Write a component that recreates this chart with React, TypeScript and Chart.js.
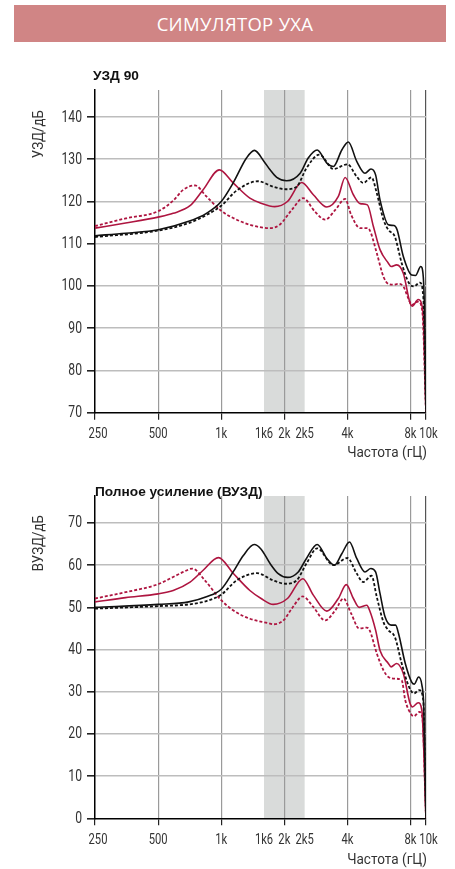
import React, { useEffect, useRef } from 'react';
import { Chart, registerables } from 'chart.js';

Chart.register(...registerables);

const LABEL_FONT = 'Roboto, "Liberation Sans", sans-serif';
const BOLD = '"Liberation Sans", Arial, sans-serif';

// ---- X axis (frequency, Hz) ----
const xMin = 250;
const xMax = 9480;
const xTickValues = [250, 500, 1000, 1600, 2000, 2500, 4000, 8000, 9480];
const xTickLabels = ['250', '500', '1k', '1k6', '2k', '2k5', '4k', '8k', '10k'];
const xLabelOnly = [1600, 2500];
const bandRange = [1600, 2500];

// ---- Top chart: УЗД 90 ----
const uzdTicks = [70, 80, 90, 100, 110, 120, 130, 140];
const uzdBlackSolidF = [250, 350, 500, 700, 850, 1000, 1140, 1320, 1440, 1600, 1710, 1840, 2050, 2380, 2600, 2870, 3190, 3430, 3760, 4040, 4430, 4850, 5180, 5450, 5720, 6270, 6680, 6900, 7390, 8100, 8450, 8950, 9200, 9350, 9480];
const uzdBlackSolidV = [111.9, 112.5, 113.3, 115.3, 117.2, 120, 124.4, 130.3, 132.1, 129.5, 127.5, 125.7, 124.9, 126.7, 130.3, 132.2, 129.1, 128.3, 132.2, 134.1, 129.5, 126.7, 127.7, 126.3, 120.4, 114.5, 114.3, 113.3, 107, 102.6, 102.5, 104.6, 102.2, 91, 70];
const uzdBlackDotF = [250, 500, 700, 850, 1000, 1185, 1500, 1770, 2030, 2290, 2550, 2940, 3430, 4000, 4430, 4760, 5210, 5520, 5940, 6270, 6730, 7260, 7860, 8300, 8860, 9200, 9480];
const uzdBlackDotV = [111.6, 113.1, 114.9, 116.8, 119, 122.6, 124.8, 123.5, 122.9, 123.5, 127.9, 131.1, 127.7, 128.8, 125.9, 124.4, 125.7, 122, 115.7, 113.3, 111.7, 105.4, 100.7, 99.9, 100.8, 97.5, 70];
const uzdRedSolidF = [250, 350, 500, 590, 710, 820, 980, 1140, 1370, 1550, 1800, 2070, 2420, 2750, 3190, 3620, 3900, 4270, 4600, 4980, 5320, 5720, 6270, 6460, 6870, 7390, 7960, 8150, 8700, 9150, 9480];
const uzdRedSolidV = [113.7, 114.9, 116.3, 117.2, 119, 122.8, 127.5, 124.4, 120.8, 119.6, 118.8, 120, 124.5, 121.6, 118.7, 121.2, 125.7, 121.6, 119.5, 119.2, 114.1, 108.6, 105.4, 104.6, 105, 103, 95.9, 95.2, 96.8, 94.3, 70];
const uzdRedDotF = [250, 350, 500, 590, 660, 750, 850, 1000, 1140, 1370, 1710, 1900, 2170, 2460, 2800, 3130, 3500, 3900, 4170, 4600, 4950, 5100, 5520, 5940, 6270, 6600, 7000, 7390, 7860, 8100, 8700, 9100, 9480];
const uzdRedDotV = [114.2, 116, 117.7, 120.2, 122.8, 123.8, 121.2, 117.8, 116.1, 114.5, 113.7, 114.5, 118, 120.8, 117.6, 115.7, 118, 120.6, 116.8, 113.7, 113.7, 113.3, 107.8, 102.2, 100.5, 100.3, 100.5, 99.9, 96.7, 95.5, 96.3, 94, 70];

// ---- Bottom chart: Полное усиление (ВУЗД) ----
const gainTicks = [0, 10, 20, 30, 40, 50, 60, 70];
const gainBlackSolidF = [250, 500, 700, 850, 1000, 1140, 1275, 1437, 1550, 1710, 1870, 2070, 2330, 2550, 2870, 3190, 3470, 3760, 4090, 4430, 4850, 5170, 5450, 5720, 6050, 6460, 6790, 7010, 7550, 8100, 8340, 8740, 9060, 9250, 9480];
const gainBlackSolidV = [50, 50.7, 51.3, 52.5, 54.3, 58.4, 62.3, 64.9, 63.8, 60.4, 58, 57.1, 58.4, 61.6, 64.9, 61.6, 60, 62.7, 65.5, 61.6, 58.4, 59.2, 58.4, 53.3, 47.7, 45.8, 45.8, 43.8, 36.7, 32.3, 31.8, 33.5, 31.6, 26.4, 0];
const gainBlackDotF = [250, 500, 700, 850, 1000, 1185, 1480, 1770, 2030, 2290, 2550, 2870, 3430, 4000, 4430, 4760, 5210, 5520, 5940, 6270, 6730, 7260, 7860, 8300, 8800, 9200, 9480];
const gainBlackDotV = [49.7, 50.3, 50.7, 51.5, 53, 56.4, 58.1, 56.4, 55.6, 56.4, 60.4, 64, 60, 61.7, 58, 56, 57.5, 52.5, 46.5, 44.6, 43, 36.7, 31.2, 29.6, 30.4, 28, 0];
const gainRedSolidF = [250, 350, 500, 590, 710, 820, 970, 1140, 1370, 1550, 1770, 2070, 2450, 2750, 3190, 3620, 3950, 4270, 4550, 4950, 5100, 5450, 5720, 6270, 6460, 6870, 7390, 7960, 8170, 8700, 9060, 9480];
const gainRedSolidV = [51.3, 52.3, 53.2, 54, 56, 58.8, 61.8, 58.1, 54, 52.1, 50.7, 52.1, 56.8, 52.9, 49.1, 52.1, 55.4, 52.1, 50, 50.5, 49.3, 44.6, 39.8, 36.7, 35.9, 36.7, 34.3, 27.2, 26.4, 27.4, 25.6, 0];
const gainRedDotF = [250, 350, 500, 590, 660, 730, 835, 1000, 1140, 1370, 1660, 1770, 1980, 2170, 2450, 2750, 3130, 3500, 3830, 4170, 4550, 4950, 5100, 5520, 5940, 6270, 6790, 7260, 7550, 8100, 8300, 8800, 9100, 9480];
const gainRedDotV = [52.1, 53.6, 55.5, 57.2, 58.4, 59.2, 56.4, 51.7, 49.3, 47.3, 46.3, 46, 46.9, 49.7, 52.6, 50.1, 46.9, 49.3, 52.1, 48.5, 45, 45.2, 44.6, 39.1, 35.1, 33.5, 33.1, 32.7, 28, 24.5, 24.2, 25.2, 24, 0];

const BLACK = '#111111';
const RED = '#AE1540';

const pts = (f: number[], v: number[]) => f.map((x, i) => ({ x, y: v[i] }));

type PanelSpec = {
  height: number;
  padTop: number;
  xAxisHeight: number;
  title: string;
  titleX: number;
  titleY: number;
  yTitle: string;
  yTitleTop: number;
  xTitle: string;
  xTitleY: number;
  yMin: number;
  yMax: number;
  yTicks: number[];
  series: { f: number[]; v: number[]; color: string; dashed: boolean }[];
};

function condensedText(ctx: CanvasRenderingContext2D, text: string, x: number, y: number, sx: number, align: CanvasTextAlign) {
  ctx.save();
  ctx.translate(x, y);
  ctx.scale(sx, 1);
  ctx.textAlign = align;
  ctx.fillText(text, 0, 0);
  ctx.restore();
}

function Panel({ spec }: { spec: PanelSpec }) {
  const ref = useRef<HTMLCanvasElement | null>(null);
  useEffect(() => {
    if (!ref.current) return;
    const decor = {
      id: 'decor',
      beforeDraw(chart: any) {
        const { ctx, chartArea, scales } = chart;
        const x0 = scales.x.getPixelForValue(bandRange[0]);
        const x1 = scales.x.getPixelForValue(bandRange[1]);
        ctx.save();
        ctx.fillStyle = '#D9DBDA';
        ctx.fillRect(x0, chartArea.top, x1 - x0, chartArea.bottom - chartArea.top);
        ctx.restore();
      },
      afterDraw(chart: any) {
        const { ctx, chartArea, scales } = chart;
        ctx.save();
        // tick labels (condensed)
        ctx.fillStyle = '#333';
        ctx.textBaseline = 'middle';
        ctx.font = `16px ${LABEL_FONT}`;
        spec.yTicks.forEach((v) => {
          condensedText(ctx, String(v), 82, scales.y.getPixelForValue(v) + 0.5, 0.76, 'right');
        });
        ctx.font = `14px ${LABEL_FONT}`;
        const last = xTickValues.length - 1;
        xTickValues.forEach((v, i) => {
          const nudge = i === 0 ? 3 : i === last ? 2.5 : 0;
          condensedText(ctx, xTickLabels[i], scales.x.getPixelForValue(v) + nudge, chartArea.bottom + 22, 0.8, 'center');
        });

        // chart title
        ctx.fillStyle = '#111';
        ctx.font = `bold 13.7px ${BOLD}`;
        ctx.textAlign = 'left';
        ctx.fillText(spec.title, spec.titleX, spec.titleY);

        // axis titles
        ctx.fillStyle = '#333';
        ctx.font = `14px ${LABEL_FONT}`;
        condensedText(ctx, spec.xTitle, chartArea.right + 1, spec.xTitleY, 0.97, 'right');

        ctx.translate(39, spec.yTitleTop);
        ctx.rotate(-Math.PI / 2);
        ctx.font = `14px ${LABEL_FONT}`;
        condensedText(ctx, spec.yTitle, 0, 0, 0.95, 'right');
        ctx.restore();
      },
    };

    const chart = new Chart(ref.current, {
      type: 'line',
      data: {
        datasets: spec.series.map((s) => ({
          data: pts(s.f, s.v),
          borderColor: s.color,
          borderWidth: s.dashed ? 1.8 : 1.6,
          borderDash: s.dashed ? [3, 2] : [],
          pointRadius: 0,
          fill: false,
          cubicInterpolationMode: 'monotone' as const,
        })),
      },
      options: {
        responsive: false,
        animation: false,
        devicePixelRatio: 1,
        layout: { padding: { top: spec.padTop, right: 29, left: 0, bottom: 0 } },
        plugins: { legend: { display: false }, tooltip: { enabled: false }, title: { display: false } },
        scales: {
          x: {
            type: 'logarithmic',
            min: xMin,
            max: xMax,
            afterBuildTicks: (s: any) => {
              s.ticks = xTickValues.map((v) => ({ value: v }));
            },
            afterFit: (s: any) => {
              s.height = spec.xAxisHeight;
            },
            ticks: {
              display: false,
              autoSkip: false,
              maxRotation: 0,
              callback: (_v: any, i: number) => xTickLabels[i],
            },
            grid: {
              color: (c: any) => {
                const v = c.tick?.value;
                if (v === xMin || xLabelOnly.includes(v)) return 'rgba(0,0,0,0)';
                if (v === xMax) return '#555';
                return '#9a9a9a';
              },
              tickColor: (c: any) => (xLabelOnly.includes(c.tick?.value) ? 'rgba(0,0,0,0)' : '#222'),
              lineWidth: 1.2,
              tickLength: 7,
            },
            border: { display: true, color: '#000', width: 1.5 },
          },
          y: {
            type: 'linear',
            min: spec.yMin,
            max: spec.yMax,
            afterBuildTicks: (s: any) => {
              s.ticks = spec.yTicks.map((v) => ({ value: v }));
            },
            afterFit: (s: any) => {
              s.width = 95;
            },
            ticks: { display: false },
            grid: {
              color: (c: any) => (c.tick?.value === spec.yMin ? 'rgba(0,0,0,0)' : '#bdbdbd'),
              tickColor: '#222',
              lineWidth: 1.6,
              tickLength: 8,
            },
            border: { display: true, color: '#000', width: 1.5 },
          },
        },
      },
      plugins: [decor],
    } as any);
    return () => chart.destroy();
  }, [spec]);

  return (
    <canvas
      ref={ref}
      width={455}
      height={spec.height}
      style={{ display: 'block', width: 455, height: spec.height }}
    />
  );
}

const topSpec: PanelSpec = {
  height: 415,
  padTop: 40,
  xAxisHeight: 52.3,
  title: 'УЗД 90',
  titleX: 93,
  titleY: 26,
  yTitle: 'УЗД/дБ',
  yTitleTop: 60,
  xTitle: 'Частота (гЦ)',
  xTitleY: 403,
  yMin: 70,
  yMax: 146.4,
  yTicks: uzdTicks,
  series: [
    { f: uzdBlackSolidF, v: uzdBlackSolidV, color: BLACK, dashed: false },
    { f: uzdBlackDotF, v: uzdBlackDotV, color: BLACK, dashed: true },
    { f: uzdRedSolidF, v: uzdRedSolidV, color: RED, dashed: false },
    { f: uzdRedDotF, v: uzdRedDotV, color: RED, dashed: true },
  ],
};

const bottomSpec: PanelSpec = {
  height: 404,
  padTop: 31,
  xAxisHeight: 50.7,
  title: 'Полное усиление (ВУЗД)',
  titleX: 95,
  titleY: 27,
  yTitle: 'ВУЗД/дБ',
  yTitleTop: 50,
  xTitle: 'Частота (гЦ)',
  xTitleY: 395,
  yMin: 0,
  yMax: 76.4,
  yTicks: gainTicks,
  series: [
    { f: gainBlackSolidF, v: gainBlackSolidV, color: BLACK, dashed: false },
    { f: gainBlackDotF, v: gainBlackDotV, color: BLACK, dashed: true },
    { f: gainRedSolidF, v: gainRedSolidV, color: RED, dashed: false },
    { f: gainRedDotF, v: gainRedDotV, color: RED, dashed: true },
  ],
};

export default function App() {
  return (
    <div style={{ position: 'absolute', left: 0, top: 0, width: 455, height: 869, background: '#fff', overflow: 'hidden' }}>
      <div
        style={{
          position: 'absolute',
          left: 14,
          top: 5,
          width: 432,
          height: 37,
          boxSizing: 'border-box',
          paddingLeft: 10,
          background: '#D08585',
          color: '#fff',
          fontFamily: '"Open Sans", "Noto Sans", sans-serif',
          fontSize: 18.5,
          lineHeight: '37px',
          textAlign: 'center',
          letterSpacing: 0.3,
        }}
      >
        СИМУЛЯТОР УХА
      </div>
      <div style={{ position: 'absolute', left: 0, top: 50 }}>
        <Panel spec={topSpec} />
      </div>
      <div style={{ position: 'absolute', left: 0, top: 465 }}>
        <Panel spec={bottomSpec} />
      </div>
    </div>
  );
}
